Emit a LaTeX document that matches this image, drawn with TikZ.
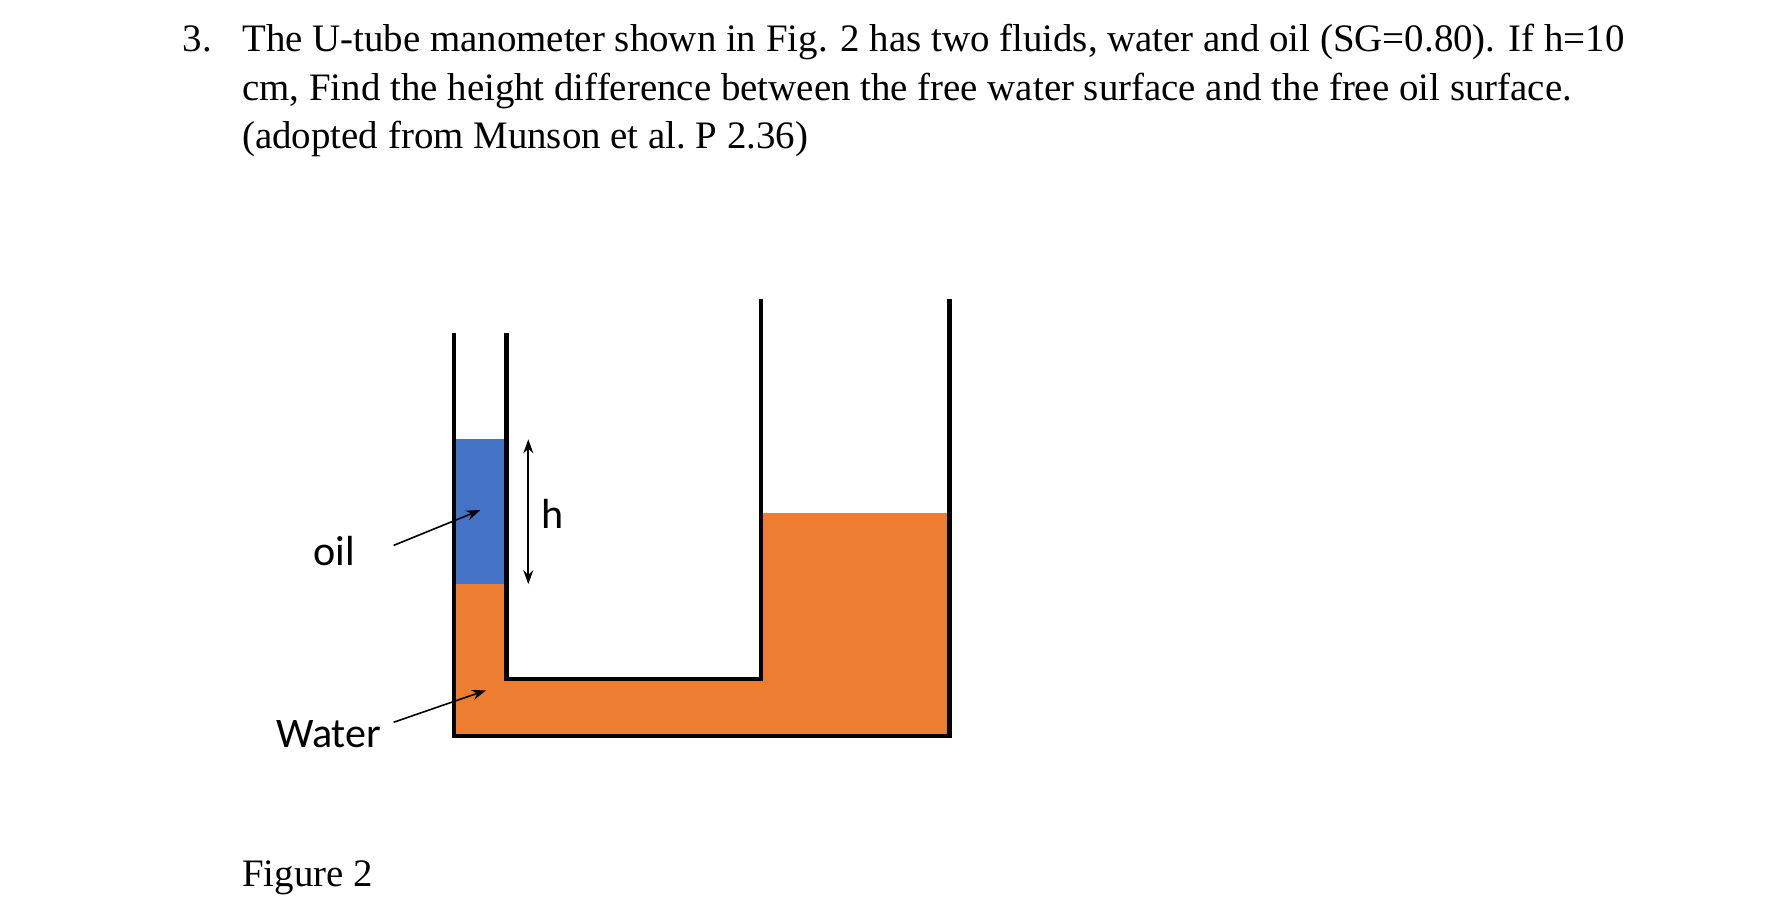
\documentclass[tikz,border=0pt]{standalone}
\usepackage{fontspec}
\setmainfont{Liberation Serif}
\newfontfamily\calfnt{Carlito}
\usetikzlibrary{arrows.meta}
\definecolor{oilc}{HTML}{4472C4}
\definecolor{watc}{HTML}{ED7D31}
\begin{document}
\begin{tikzpicture}[x=0.02cm,y=-0.02cm,
  wall/.style={line width=2.2pt},
  txt/.style={anchor=base west,inner sep=0,font=\fontsize{19.4}{22}\selectfont},
  lab/.style={inner sep=0,font=\calfnt\fontsize{21}{24}\selectfont},
  ptr/.style={line width=0.8pt,-{Stealth[length=7pt,width=5pt]}}]
\useasboundingbox (0,0) rectangle (1560,794);
\node[txt] (n3) at (160,45) {3.};
\node[txt] (l1) at (212,45) {The U-tube manometer shown in Fig. 2 has two fluids, water and oil (SG=0.80). If h=10};
\node[txt] (l2) at (212,88) {cm, Find the height difference between the free water surface and the free oil surface.};
\node[txt] (l3) at (212,130) {(adopted from Munson et al.\ P 2.36)};
\fill[oilc] (398,385) rectangle (444,512);
\fill[watc] (398,512) rectangle (444,645);
\fill[watc] (398,595) rectangle (832,645);
\fill[watc] (667,450) rectangle (832,645);
\draw[wall] (398,292) -- (398,645) -- (832,645) -- (832,262);
\draw[wall] (444,292) -- (444,595) -- (667,595) -- (667,262);
\coordinate (ht) at (463,385);
\coordinate (hb) at (463,512);
\draw[line width=0.8pt,{Stealth[length=7pt,width=5pt]}-{Stealth[length=7pt,width=5pt]}] (ht) -- (hb);
\node[lab] (h) at (484,450) {h};
\node[lab] (oil) at (293,483) {oil};
\coordinate (oilt) at (421,447);
\draw[ptr] (345,478) -- (oilt);
\node[lab] (wat) at (288,643) {Water};
\coordinate (watt) at (426,605);
\draw[ptr] (345,633) -- (watt);
\node[txt] (fig) at (212,777) {Figure 2};
\end{tikzpicture}
\end{document}
